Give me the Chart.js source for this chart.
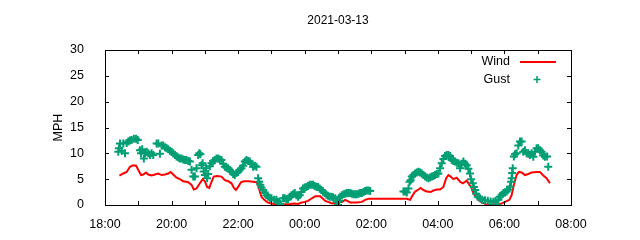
<!DOCTYPE html>
<html>
<head>
<meta charset="utf-8">
<script src="https://cdn.jsdelivr.net/npm/chart.js@4/dist/chart.umd.min.js"></script>
<style>
  html, body { margin: 0; padding: 0; background: #fff; }
</style>
</head>
<body>
<canvas id="windChart" width="640" height="240"></canvas>
<script>
// titres et graduations
const chartTitle = '2021-03-13';
const yTitle = 'MPH';
const hourTicks = ['18:00', '19:00', '20:00', '21:00', '22:00', '23:00', '00:00', '01:00',
                   '02:00', '03:00', '04:00', '05:00', '06:00', '07:00', '08:00'];
const speedTicks = [0, 5, 10, 15, 20, 25, 30];

// vent moyen
const windTimes = ['18:26', '18:33', '18:39', '18:45', '18:51', '18:56', '19:00', '19:05', '19:09', '19:14',
                   '19:18', '19:24', '19:30', '19:36', '19:42', '19:48', '19:54', '19:58', '20:03', '20:09',
                   '20:15', '20:21', '20:30', '20:36', '20:40', '20:45', '20:51', '20:56', '21:00', '21:04',
                   '21:08', '21:12', '21:16', '21:22', '21:30', '21:36', '21:42', '21:48', '21:53', '21:56',
                   '22:00', '22:05', '22:10', '22:18', '22:27', '22:33', '22:36', '22:39', '22:42', '22:47',
                   '22:53', '23:00', '23:09', '23:21', '23:33', '23:42', '23:48', '23:55', '00:00', '00:06',
                   '00:13', '00:19', '00:28', '00:32', '00:37', '00:42', '00:49', '00:55', '01:00', '01:07',
                   '01:13', '01:22', '01:34', '01:43', '01:49', '01:55', '02:00', '02:30', '03:04', '03:10',
                   '03:13', '03:19', '03:25', '03:29', '03:34', '03:40', '03:47', '03:52', '03:58', '04:04',
                   '04:10', '04:15', '04:19', '04:23', '04:28', '04:34', '04:40', '04:45', '04:52', '04:57',
                   '05:00', '05:03', '05:08', '05:13', '05:19', '05:28', '05:40', '05:49', '05:55', '06:01',
                   '06:09', '06:13', '06:17', '06:22', '06:26', '06:31', '06:37', '06:43', '06:49', '06:58',
                   '07:04', '07:10', '07:16', '07:22'];
const windSpeeds = [5.7, 6.1, 6.4, 7.4, 7.7, 7.6, 6.8, 5.8, 5.9, 6.3,
                    5.9, 5.7, 5.9, 6.1, 5.8, 5.9, 6.1, 6.4, 5.9, 5.3,
                    5.0, 4.6, 4.4, 3.9, 3.0, 3.2, 4.2, 5.0, 4.6, 3.5,
                    3.3, 4.5, 5.5, 5.6, 5.5, 4.8, 4.6, 4.2, 3.2, 2.9,
                    3.5, 4.4, 4.6, 4.6, 4.5, 4.4, 3.9, 2.6, 1.6, 1.0,
                    0.5, 0.3, 0.1, 0.1, 0.2, 0.3, 0.2, 0.5, 0.6, 0.8,
                    1.3, 1.7, 1.7, 1.3, 0.8, 0.6, 0.3, 0.4, 0.6, 0.6,
                    1.0, 0.5, 0.5, 0.6, 1.0, 1.2, 1.2, 1.2, 1.2, 1.0,
                    1.6, 2.6, 3.0, 3.3, 2.9, 2.6, 2.5, 2.8, 3.0, 3.0,
                    3.5, 5.2, 5.8, 5.5, 5.0, 5.3, 4.5, 4.2, 4.7, 3.9,
                    3.5, 2.6, 1.6, 1.0, 0.5, 0.1, 0.1, 0.1, 0.3, 0.6,
                    1.0, 1.9, 3.9, 5.8, 6.4, 6.3, 5.8, 6.0, 6.3, 6.4,
                    6.4, 5.7, 5.2, 4.2];

// rafales
const gustTimes = ['18:24', '18:25', '18:27', '18:30', '18:33', '18:36', '18:39', '18:42', '18:45', '18:48',
                   '18:52', '18:56', '18:59', '19:03', '19:05', '19:07', '19:10', '19:12', '19:15', '19:18',
                   '19:21', '19:24', '19:27', '19:33', '19:36', '19:39', '19:42', '19:45', '19:48', '19:51',
                   '19:54', '19:57', '20:00', '20:03', '20:06', '20:09', '20:12', '20:15', '20:18', '20:21',
                   '20:24', '20:27', '20:30', '20:33', '20:36', '20:39', '20:42', '20:45', '20:48', '20:50',
                   '20:52', '20:54', '20:56', '20:58', '21:00', '21:02', '21:04', '21:06', '21:09', '21:12',
                   '21:15', '21:18', '21:21', '21:24', '21:27', '21:30', '21:33', '21:36', '21:39', '21:42',
                   '21:45', '21:48', '21:51', '21:54', '21:57', '22:00', '22:03', '22:06', '22:09', '22:12',
                   '22:15', '22:18', '22:21', '22:24', '22:27', '22:30', '22:33', '22:36', '22:38', '22:40',
                   '22:42', '22:45', '22:48', '22:51', '22:54', '22:57', '23:00', '23:05', '23:09', '23:12',
                   '23:16', '23:21', '23:24', '23:27', '23:30', '23:33', '23:36', '23:39', '23:42', '23:45',
                   '23:48', '23:51', '23:54', '23:57', '00:00', '00:03', '00:06', '00:09', '00:12', '00:15',
                   '00:18', '00:21', '00:24', '00:27', '00:30', '00:33', '00:36', '00:39', '00:42', '00:45',
                   '00:48', '00:51', '00:55', '00:58', '01:00', '01:02', '01:04', '01:07', '01:10', '01:13',
                   '01:16', '01:19', '01:22', '01:25', '01:28', '01:31', '01:34', '01:37', '01:40', '01:43',
                   '01:46', '01:49', '01:52', '01:55', '01:58', '02:58', '03:01', '03:04', '03:07', '03:09',
                   '03:11', '03:13', '03:16', '03:19', '03:22', '03:25', '03:28', '03:31', '03:34', '03:37',
                   '03:40', '03:43', '03:46', '03:49', '03:52', '03:55', '03:58', '04:01', '04:04', '04:07',
                   '04:10', '04:13', '04:16', '04:19', '04:22', '04:25', '04:28', '04:31', '04:34', '04:37',
                   '04:40', '04:43', '04:46', '04:49', '04:52', '04:55', '04:58', '05:00', '05:03', '05:05',
                   '05:07', '05:09', '05:12', '05:16', '05:20', '05:25', '05:30', '05:35', '05:40', '05:44',
                   '05:46', '05:49', '05:52', '05:55', '05:58', '06:01', '06:04', '06:07', '06:10', '06:12',
                   '06:13', '06:14', '06:15', '06:17', '06:19', '06:22', '06:25', '06:28', '06:31', '06:34',
                   '06:37', '06:40', '06:43', '06:46', '06:49', '06:52', '06:55', '06:58', '07:01', '07:04',
                   '07:07', '07:10', '07:13', '07:17', '07:19'];
const gustSpeeds = [10.3, 11.0, 11.9, 10.5, 11.9, 10.0, 12.0, 12.3, 12.5, 12.6,
                    12.8, 12.8, 12.6, 10.6, 10.0, 10.8, 9.0, 10.0, 10.3, 10.0,
                    9.7, 10.0, 9.7, 11.9, 11.9, 9.9, 11.5, 11.5, 11.2, 11.0,
                    10.8, 10.5, 10.3, 10.0, 9.7, 9.4, 9.2, 9.0, 9.0, 8.8,
                    8.7, 8.7, 8.5, 8.4, 6.8, 5.5, 5.5, 7.1, 9.7, 10.0,
                    9.8, 7.7, 8.1, 6.5, 5.8, 7.1, 5.2, 6.0, 7.5, 8.1,
                    8.5, 8.7, 9.0, 9.0, 8.8, 8.7, 8.0, 7.4, 7.2, 7.1,
                    6.8, 6.45, 6.0, 5.8, 6.2, 6.45, 6.8, 7.1, 7.6, 8.4,
                    8.7, 8.5, 8.4, 8.0, 7.4, 7.6, 7.4, 5.2, 4.5, 3.9,
                    3.4, 2.9, 2.4, 1.9, 1.6, 1.4, 1.3, 1.0, 1.0, 0.65,
                    0.2, 1.3, 1.3, 1.1, 1.1, 1.6, 1.9, 2.1, 2.3, 1.9,
                    1.6, 1.9, 2.5, 3.2, 3.4, 3.5, 3.7, 3.9, 3.9, 3.9,
                    3.7, 3.55, 3.5, 3.2, 2.9, 2.6, 2.3, 2.0, 1.8, 1.6,
                    1.6, 1.5, 1.3, 0.6, 0.0, 0.8, 1.6, 1.9, 2.1, 2.2,
                    2.3, 2.3, 2.3, 2.2, 2.1, 2.1, 2.1, 2.2, 2.3, 2.3,
                    2.5, 2.7, 2.8, 2.8, 2.7, 2.6, 2.6, 2.4, 3.2, 4.5,
                    4.8, 5.5, 5.8, 6.1, 6.3, 6.45, 6.3, 6.1, 5.8, 5.5,
                    5.3, 5.2, 5.3, 5.5, 5.6, 5.8, 6.0, 6.1, 7.1, 8.1,
                    8.9, 9.5, 9.7, 9.7, 9.5, 8.7, 8.5, 8.4, 8.2, 8.1,
                    7.1, 8.0, 8.4, 8.0, 7.7, 7.0, 6.1, 5.0, 4.2, 3.5,
                    2.9, 2.2, 1.6, 1.3, 1.0, 0.9, 0.8, 0.7, 0.65, 0.8,
                    0.0, 1.0, 1.6, 2.0, 2.3, 2.4, 2.6, 3.0, 3.55, 4.5,
                    5.2, 6.2, 7.1, 9.4, 9.8, 10.0, 11.5, 12.3, 12.3, 10.3,
                    10.6, 10.0, 9.9, 9.7, 10.0, 9.35, 10.3, 11.0, 11.0, 10.6,
                    10.3, 9.6, 9.35, 9.4, 7.4];

// minutes depuis 18:00
function toMinutes(hhmm) {
    const [h, m] = hhmm.split(':').map(Number);
    return ((h - 18 + 24) % 24) * 60 + m;
}
function toPoints(times, values) {
    return times.map((t, i) => ({ x: toMinutes(t), y: values[i] }));
}

// cadre gnuplot avec graduations vers l'intérieur
const frameTicks = {
    id: 'frameTicks',
    afterDatasetsDraw(chart) {
        const { ctx, chartArea: a, scales: { x, y } } = chart;
        const len = 4;
        ctx.save();
        ctx.strokeStyle = '#000';
        ctx.lineWidth = 1;
        ctx.beginPath();
        x.ticks.forEach(t => {
            const px = Math.round(x.getPixelForValue(t.value)) + 0.5;
            ctx.moveTo(px, a.bottom); ctx.lineTo(px, a.bottom - len);
            ctx.moveTo(px, a.top); ctx.lineTo(px, a.top + len);
        });
        y.ticks.forEach(t => {
            const py = Math.round(y.getPixelForValue(t.value)) + 0.5;
            ctx.moveTo(a.left, py); ctx.lineTo(a.left + len, py);
            ctx.moveTo(a.right, py); ctx.lineTo(a.right - len, py);
        });
        ctx.stroke();
        ctx.strokeRect(Math.round(a.left) + 0.5, Math.round(a.top) + 0.5,
                       Math.round(a.right - a.left), Math.round(a.bottom - a.top));
        ctx.restore();
    }
};

// légende à la gnuplot : texte puis échantillon
const gnuKey = {
    id: 'gnuKey',
    afterDraw(chart) {
        const { ctx, chartArea: a } = chart;
        ctx.save();
        ctx.font = '12.5px "Liberation Sans", Arial, sans-serif';
        ctx.fillStyle = '#000';
        ctx.textAlign = 'right';
        ctx.textBaseline = 'middle';
        let yy = a.top + 12;
        chart.data.datasets.forEach(ds => {
            ctx.fillText(ds.label, a.right - 61, yy);
            ctx.strokeStyle = ds.borderColor;
            ctx.beginPath();
            if (ds.showLine === false) {
                const cx = a.right - 34;
                ctx.lineWidth = 1.5;
                ctx.moveTo(cx - 3.5, yy); ctx.lineTo(cx + 3.5, yy);
                ctx.moveTo(cx, yy - 3.5); ctx.lineTo(cx, yy + 3.5);
            } else {
                ctx.lineWidth = 2;
                ctx.moveTo(a.right - 51, yy); ctx.lineTo(a.right - 15, yy);
            }
            ctx.stroke();
            yy += 17.5;
        });
        ctx.restore();
    }
};

Chart.defaults.font.family = '"Liberation Sans", Arial, sans-serif';
Chart.defaults.font.size = 12.5;
Chart.defaults.color = '#000';

new Chart(document.getElementById('windChart'), {
    type: 'line',
    data: {
        datasets: [{
            label: 'Wind',
            data: toPoints(windTimes, windSpeeds),
            borderColor: '#ff0000',
            borderWidth: 2,
            pointRadius: 0,
            tension: 0,
            fill: false,
            order: 1
        }, {
            label: 'Gust',
            data: toPoints(gustTimes, gustSpeeds),
            showLine: false,
            borderColor: '#009e73',
            backgroundColor: '#009e73',
            pointStyle: 'cross',
            pointRadius: 4,
            pointBorderWidth: 2,
            order: 0
        }]
    },
    options: {
        responsive: false,
        animation: false,
        devicePixelRatio: 1,
        // titre centré sur la zone de tracé
        layout: { padding: { left: 36, right: 0, top: 0, bottom: 0 } },
        plugins: {
            legend: { display: false },
            tooltip: { enabled: false },
            title: {
                display: true,
                text: chartTitle,
                font: { size: 12, weight: 'normal' },
                color: '#000',
                padding: { top: 13, bottom: 22.6 }
            }
        },
        scales: {
            x: {
                type: 'linear',
                min: 0,
                max: 840,
                grid: { display: false },
                border: { display: false },
                ticks: {
                    stepSize: 60,
                    autoSkip: false,
                    maxRotation: 0,
                    padding: 4,
                    callback: v => (v / 60) % 2 === 0 ? hourTicks[v / 60] : ''
                },
                afterFit: s => { s.height = 35; }
            },
            y: {
                min: speedTicks[0],
                max: speedTicks[speedTicks.length - 1],
                grid: { display: false },
                border: { display: false },
                ticks: { stepSize: 5, padding: 13 },
                title: { display: true, text: yTitle, padding: { top: 15 }, font: { size: 12.5 } },
                afterFit: s => { s.width = 69; }
            },
            yRight: {
                position: 'right',
                grid: { display: false },
                border: { display: false },
                ticks: { display: false },
                afterFit: s => { s.width = 69; }
            }
        }
    },
    plugins: [frameTicks, gnuKey]
});
</script>
</body>
</html>
